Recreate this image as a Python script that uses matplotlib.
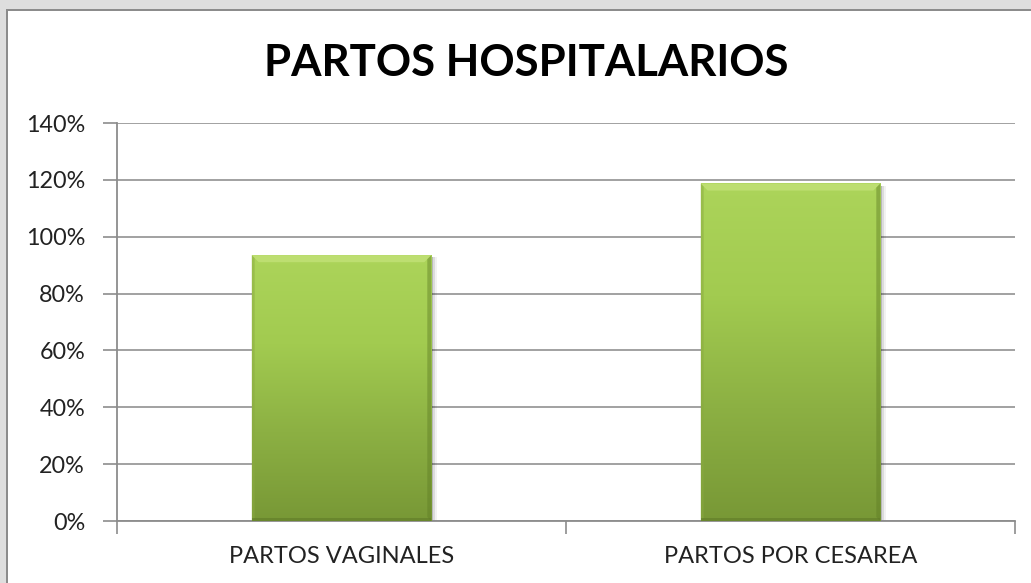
import numpy as np
import matplotlib
matplotlib.use('Agg')
import matplotlib.pyplot as plt
from matplotlib.patches import Rectangle, Polygon
from matplotlib.colors import LinearSegmentedColormap

# data
categories = ['PARTOS VAGINALES', 'PARTOS POR CESAREA']
values     = [0.935, 1.187]
yticks     = [0, 0.2, 0.4, 0.6, 0.8, 1.0, 1.2, 1.4]
title      = 'PARTOS HOSPITALARIOS'

W, H = 1031, 583
fig = plt.figure(figsize=(W/100, H/100), dpi=100)
fig.patch.set_facecolor('white')

# grey surround on the top and left, with a darker border line
fig.patches.append(Rectangle((0, 1 - 9/H), 1, 9/H, transform=fig.transFigure,
                             facecolor='#dedede', edgecolor='none'))
fig.patches.append(Rectangle((0, 0), 6/W, 1, transform=fig.transFigure,
                             facecolor='#dedede', edgecolor='none'))
fig.patches.append(Rectangle((6/W, 1 - 11/H), 1, 2/H, transform=fig.transFigure,
                             facecolor='#8c8c8c', edgecolor='none'))
fig.patches.append(Rectangle((6/W, 0), 2/W, 1 - 9/H, transform=fig.transFigure,
                             facecolor='#8c8c8c', edgecolor='none'))

# axes box: x 117..1015, y 123..521 (pixels from top)
ax = fig.add_axes([117/W, (H-521)/H, (1015-117)/W, (521-123)/H])
ax.set_facecolor('none')

font = 'Lato'
ax.set_yticks(yticks)
ax.set_yticklabels(['%d%%' % round(v*100) for v in yticks],
                   fontsize=16.8, family=font, color='#222222')
ax.yaxis.grid(True, color='#9a9a9a', linewidth=1.3)
ax.set_axisbelow(True)
ax.tick_params(axis='y', length=10, width=1.2, color='#8c8c8c', pad=13)

# x ticks at category boundaries, labels centred under bars
ax.set_xticks(np.arange(len(categories) + 1) - 0.5)
ax.set_xticklabels([])
ax.set_xticks(np.arange(len(categories)), minor=True)
ax.set_xticklabels(categories, minor=True, fontsize=17, family=font, color='#222222')
ax.tick_params(axis='x', which='major', length=9, width=1.2, color='#8c8c8c')
ax.tick_params(axis='x', which='minor', length=0, pad=18)

for s in ['top', 'right']:
    ax.spines[s].set_visible(False)
for s in ['left', 'bottom']:
    ax.spines[s].set_color('#8c8c8c')
    ax.spines[s].set_linewidth(1.3)

# gradient green bars
green = LinearSegmentedColormap.from_list('g', ['#789836', '#8cb043', '#a2cb50', '#acd45a'])
bw = 0.4
ypx = 1.4 / 398.0           # data units per pixel, vertical
xpx = 2.0 / 898.0           # data units per pixel, horizontal
for i, v in enumerate(values):
    x0, x1 = i - bw/2, i + bw/2
    # soft shadow to the right
    for k, a in enumerate([0.16, 0.09, 0.05]):
        d = (k + 1) * xpx
        ax.add_patch(Rectangle((x0 + d, 0), bw + d, v - 2*ypx,
                               facecolor='black', alpha=a, edgecolor='none', zorder=2))
    grad = np.linspace(0, 1, 256).reshape(-1, 1)
    ax.imshow(grad, cmap=green, origin='lower', aspect='auto',
              extent=(x0, x1, 0, v), zorder=3)
    # bevel: light top band with diagonal corners, darker sides
    b = 7
    ax.add_patch(Polygon([(x0, v), (x1, v), (x1 - b*xpx, v - b*ypx), (x0 + b*xpx, v - b*ypx)],
                         closed=True, facecolor='#c4e27a', alpha=0.75, edgecolor='none', zorder=4))
    ax.add_patch(Polygon([(x1, v), (x1, 0), (x1 - 4*xpx, 4*ypx), (x1 - 4*xpx, v - 4*ypx)],
                         closed=True, facecolor='#5f7d25', alpha=0.45, edgecolor='none', zorder=4))
    ax.add_patch(Polygon([(x0, v), (x0, 0), (x0 + 3*xpx, 3*ypx), (x0 + 3*xpx, v - 3*ypx)],
                         closed=True, facecolor='#8aaa40', alpha=0.5, edgecolor='none', zorder=4))
    ax.add_patch(Rectangle((x0, 0), bw, 3*ypx, facecolor='#5f7a28', alpha=0.6,
                           edgecolor='none', zorder=4))

ax.set_xlim(-0.5, len(categories) - 0.5)
ax.set_ylim(0, 1.4)

fig.text(526/W, 1 - 63/H, title, ha='center', va='center',
         fontsize=31.5, fontweight='bold', family=font, color='black')

fig.savefig('out.png', dpi=100, facecolor=fig.get_facecolor())
